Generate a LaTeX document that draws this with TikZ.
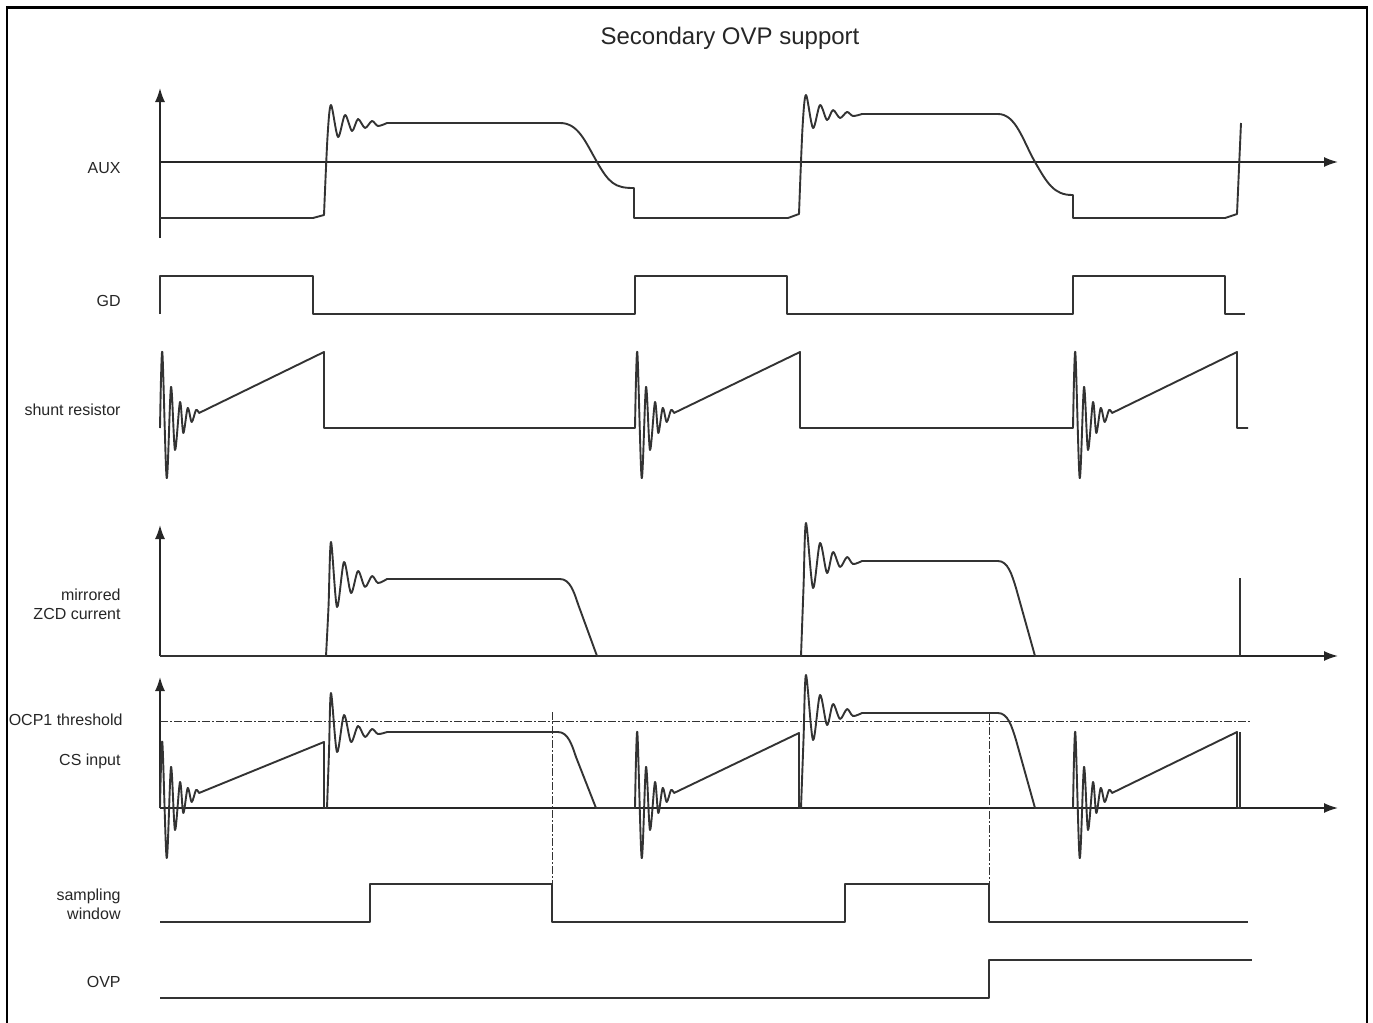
\documentclass[tikz,border=0pt]{standalone}
\usepackage{fontspec}
\setmainfont{Liberation Sans}
\usetikzlibrary{arrows.meta}

\begin{document}
\begin{tikzpicture}[x=0.5pt,y=-0.5pt,
        axisline/.style={-{Latex[length=7pt,width=5pt]},line width=0.8pt,color=black!85},
        wave/.style={line width=0.95pt,color=black!80,line join=round},
        ocpline/.style={line width=0.5pt,color=black!80,dash pattern=on 4pt off 1.2pt on 0.6pt off 1.2pt},
        lbl/.style={anchor=east,inner sep=0pt,align=right,color=black!85,font=\fontsize{8}{9.5}\selectfont}]
        \useasboundingbox (0,0) rectangle (1373,1023);
        \draw [line width=1.3pt] (7,7.5) rectangle (1367,1040);
        \node [color=black!85,font=\fontsize{12}{14}\selectfont] (title) at (730,38) {Secondary OVP support};

        % AUX
        \node [lbl] (auxlbl) at (121,168) {AUX};
        \draw [axisline] (160,238) -- (160,88);
        \draw [axisline] (160,162) -- (1338,162);
        \draw [wave] (160,218) -- (313,218) -- (324,215)
            -- plot[smooth] coordinates {(324,215) (327.5,137) (331,105) (338,137) (345,115) (352,131) (358,119) (365,128) (372,121) (378,126) (387,123)}
            -- (560,123) .. controls (578,123) and (585,141) .. (597,162) .. controls (609,183) and (615,188) .. (633,188)
            -- (634,188) -- (634,218) -- (788,218) -- (799,214)
            -- plot[smooth] coordinates {(799,214) (802.5,128) (806,95) (813,128) (820,105) (827,120) (833,110) (840,118) (847,112) (853,116) (862,114)}
            -- (998,114) .. controls (1016,114) and (1023,141) .. (1035,162) .. controls (1047,183) and (1054,195) .. (1072,195)
            -- (1073,195) -- (1073,218) -- (1225,218) -- (1237,214) -- (1241,123);

        % GD
        \node [lbl] (gdlbl) at (121,301) {GD};
        \draw [wave] (160,314) -- (160,276) -- (313,276) -- (313,314) -- (635,314) -- (635,276) -- (787,276) -- (787,314)
            -- (1073,314) -- (1073,276) -- (1225,276) -- (1225,314) -- (1245,314);

        % shunt resistor
        \node [lbl] (shuntlbl) at (121,410) {shunt resistor};
        \draw [wave] plot[smooth] coordinates {(160,428) (162.3,352) (166.7,478) (171,387) (175,450) (180,402) (183.3,433) (187.7,408) (191.7,422) (196,410) (199,413)}
            -- (324,352) -- (324,428) -- (635,428)
            -- plot[smooth] coordinates {(635,428) (637.3,352) (641.7,478) (646,387) (650,450) (655,402) (658.3,433) (662.7,408) (666.7,422) (671,410) (674,413)}
            -- (800,352) -- (800,428) -- (1073,428)
            -- plot[smooth] coordinates {(1073,428) (1075.3,352) (1079.7,478) (1084,387) (1088,450) (1093,402) (1096.3,433) (1100.7,408) (1104.7,422) (1109,410) (1112,413)}
            -- (1237,352) -- (1237,428) -- (1248,428);

        % mirrored ZCD current
        \node [lbl] (zcdlbl) at (121,604) {mirrored\\ZCD current};
        \draw [axisline] (160,656) -- (160,525);
        \draw [axisline] (160,656) -- (1338,656);
        \draw [wave] (160,656) -- (326,656)
            -- plot[smooth] coordinates {(326,656) (328.5,607) (331,542) (337,607) (344,562) (351,593) (358,571) (365,587) (372,576) (378,583) (387,579)}
            -- (560,579) .. controls (570,579) and (574,592) .. (578,604) -- (597,656) -- (801,656)
            -- plot[smooth] coordinates {(801,656) (803.5,588) (806,523) (813,588) (820,543) (827,573) (833,552) (840,567) (847,557) (853,564) (862,561)}
            -- (998,561) .. controls (1008,561) and (1012,575) .. (1016,588) -- (1035,656) -- (1240,656) -- (1240,578);

        % CS input
        \node [lbl] (ocplbl) at (123,720) {OCP1 threshold};
        \node [lbl] (cslbl) at (121,761) {CS input};
        \draw [axisline] (160,808) -- (160,677);
        \draw [axisline] (160,808) -- (1338,808);
        \draw [ocpline] (160,721) -- (1250,721);
        \draw [ocpline] (552,712) -- (552,884);
        \draw [ocpline] (989,713) -- (989,884);
        \draw [wave] plot[smooth] coordinates {(160,808) (162.3,742) (166.7,858) (171,767) (175,830) (180,782) (183.3,813) (187.7,788) (191.7,802) (196,790) (199,793)}
            -- (324,742) -- (324,808) -- (327,808)
            -- plot[smooth] coordinates {(327,808) (329,752) (331,693) (337,752) (344,715) (351,742) (358,726) (365,737) (372,729) (378,734) (387,732)}
            -- (558,732) .. controls (568,732) and (572,745) .. (576,757) -- (596,808) -- (635,808)
            -- plot[smooth] coordinates {(635,808) (637.3,732) (641.7,858) (646,767) (650,830) (655,782) (658.3,813) (662.7,788) (666.7,802) (671,790) (674,793)}
            -- (799,733) -- (799,808) -- (801,808)
            -- plot[smooth] coordinates {(801,808) (803.5,740) (806,675) (813,740) (820,695) (827,725) (833,704) (840,719) (847,709) (853,716) (862,713)}
            -- (998,713) .. controls (1008,713) and (1012,727) .. (1016,740) -- (1035,808) -- (1073,808)
            -- plot[smooth] coordinates {(1073,808) (1075.3,732) (1079.7,858) (1084,767) (1088,830) (1093,782) (1096.3,813) (1100.7,788) (1104.7,802) (1109,790) (1112,793)}
            -- (1237,732) -- (1237,808) -- (1240,808) -- (1240,732);

        % sampling window
        \node [lbl] (samplbl) at (121,904) {sampling\\window};
        \draw [wave] (160,922) -- (370,922) -- (370,884) -- (552,884) -- (552,922) -- (845,922) -- (845,884) -- (989,884) -- (989,922) -- (1248,922);

        % OVP
        \node [lbl] (ovplbl) at (121,982) {OVP};
        \draw [wave] (160,998) -- (989,998) -- (989,960) -- (1252,960);
    \end{tikzpicture}
\end{document}
